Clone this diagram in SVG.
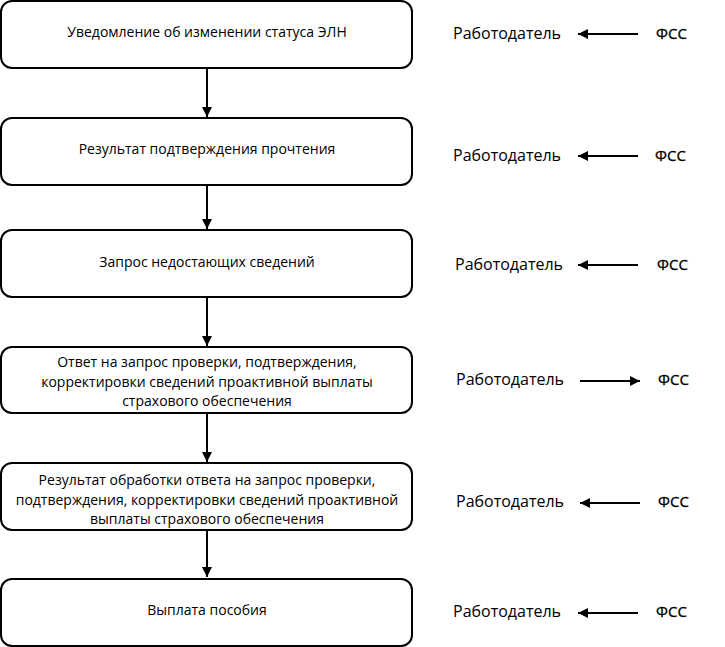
<svg xmlns="http://www.w3.org/2000/svg" width="725" height="647" viewBox="0 0 725 647">
<defs>
<style>
.box{fill:#fff;stroke:#000;stroke-width:2}
.t{font-family:"Open Sans","Noto Sans",sans-serif;font-size:14px;fill:#000;text-anchor:middle}
.r{font-family:"Open Sans","Noto Sans",sans-serif;font-size:16px;fill:#000}
.f{font-family:"Open Sans","Noto Sans",sans-serif;font-size:15px;fill:#000;stroke:#000;stroke-width:0.3}
.c{stroke:#000;stroke-width:2;fill:none}
</style>
<marker id="ah" viewBox="0 0 10 10" refX="10" refY="5" markerWidth="5" markerHeight="5" orient="auto" markerUnits="strokeWidth">
<path d="M0,0 L10,5 L0,10 z" fill="#000"/>
</marker>
</defs>
<rect width="725" height="647" fill="#fff"/>
<g id="connectors">
<line class="c" x1="207" y1="68" x2="207" y2="117" marker-end="url(#ah)"/>
<line class="c" x1="207" y1="185" x2="207" y2="229" marker-end="url(#ah)"/>
<line class="c" x1="207" y1="297" x2="207" y2="346" marker-end="url(#ah)"/>
<line class="c" x1="207" y1="413" x2="207" y2="462" marker-end="url(#ah)"/>
<line class="c" x1="207" y1="530" x2="207" y2="577" marker-end="url(#ah)"/>
<line class="c" x1="638" y1="34" x2="578" y2="34" marker-end="url(#ah)"/>
<line class="c" x1="638" y1="156" x2="578" y2="156" marker-end="url(#ah)"/>
<line class="c" x1="638" y1="265" x2="578" y2="265" marker-end="url(#ah)"/>
<line class="c" x1="580" y1="381" x2="640" y2="381" marker-end="url(#ah)"/>
<line class="c" x1="640" y1="503" x2="580" y2="503" marker-end="url(#ah)"/>
<line class="c" x1="638" y1="613" x2="578" y2="613" marker-end="url(#ah)"/>
</g>
<g id="n1"><rect class="box" x="1" y="1" width="411" height="67" rx="11"/><text class="t" x="207" y="37">Уведомление об изменении статуса ЭЛН</text></g>
<g id="n2"><rect class="box" x="1" y="118" width="411" height="67" rx="11"/><text class="t" x="207" y="154">Результат подтверждения прочтения</text></g>
<g id="n3"><rect class="box" x="1" y="230" width="411" height="67" rx="11"/><text class="t" x="207" y="267">Запрос недостающих сведений</text></g>
<g id="n4"><rect class="box" x="1" y="347" width="411" height="66" rx="11"/><text class="t" x="207" y="367">Ответ на запрос проверки, подтверждения,</text><text class="t" x="207" y="387">корректировки сведений проактивной выплаты</text><text class="t" x="207" y="406">страхового обеспечения</text></g>
<g id="n5"><rect class="box" x="1" y="463" width="411" height="67" rx="11"/><text class="t" x="207" y="485">Результат обработки ответа на запрос проверки,</text><text class="t" x="207" y="505">подтверждения, корректировки сведений проактивной</text><text class="t" x="207" y="524">выплаты страхового обеспечения</text></g>
<g id="n6"><rect class="box" x="1" y="579" width="411" height="67" rx="11"/><text class="t" x="207" y="615">Выплата пособия</text></g>
<g id="labels">
<text class="r" x="453" y="39">Работодатель</text><text class="f" x="656" y="39">ФСС</text>
<text class="r" x="453" y="161">Работодатель</text><text class="f" x="655" y="161">ФСС</text>
<text class="r" x="455" y="270">Работодатель</text><text class="f" x="657" y="270">ФСС</text>
<text class="r" x="456" y="385">Работодатель</text><text class="f" x="658" y="385">ФСС</text>
<text class="r" x="456" y="507">Работодатель</text><text class="f" x="658" y="507">ФСС</text>
<text class="r" x="453" y="617">Работодатель</text><text class="f" x="656" y="617">ФСС</text>
</g>
</svg>
